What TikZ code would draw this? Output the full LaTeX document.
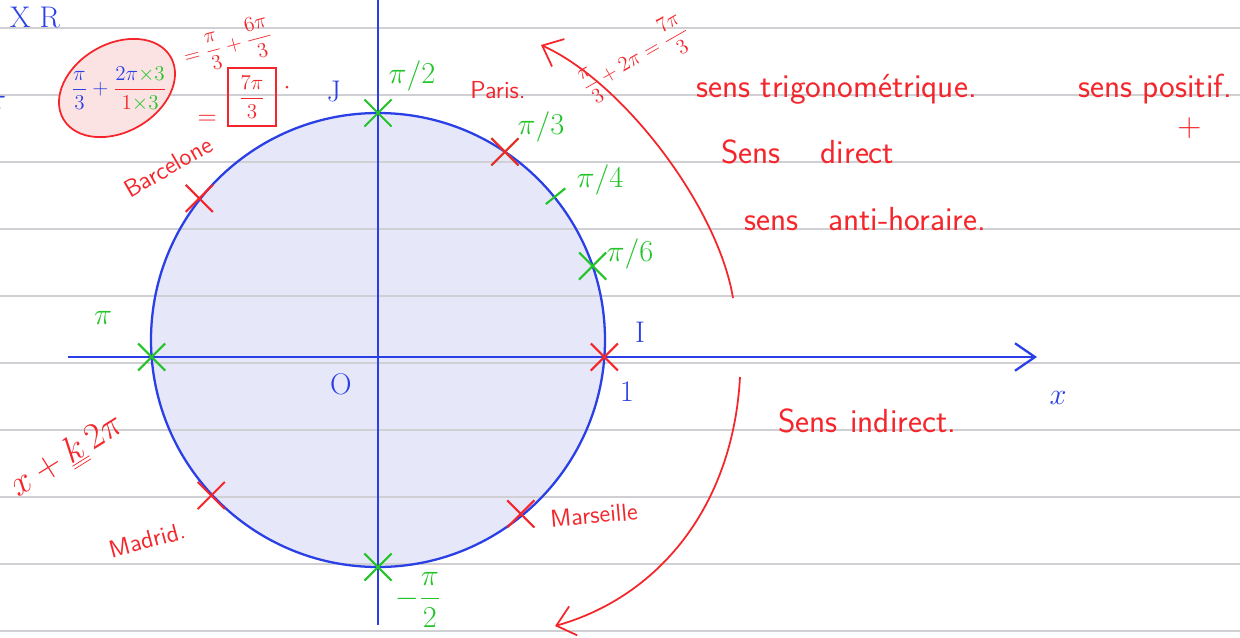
\documentclass[tikz,border=0pt]{standalone}
\usepackage{xcolor}
\usepackage{tikz}
\usetikzlibrary{positioning, arrows.meta, shapes.misc, calc}
\definecolor{stylobleu}{HTML}{2A3FE6}
\definecolor{styloroug}{HTML}{F5262B}
\definecolor{stylovert}{HTML}{22C428}
\definecolor{disque}{HTML}{E6E8FA}
\definecolor{bulle}{HTML}{FCE3E3}
\definecolor{reglure}{HTML}{CFCFD4}

\begin{document}
\begin{tikzpicture}[
  x=0.02cm, y=0.02cm,
  reglee/.style={draw=reglure, line width=1pt},
  axe/.style={draw=stylobleu, line width=1.3pt},
  croix/.style={cross out, draw, line width=1.2pt, minimum size=0.5cm, inner sep=0pt},
  fleche/.style={draw=styloroug, line width=1pt, -{Straight Barb[length=3.5mm, width=6mm]}},
  mesure/.style={text=stylovert, font=\fontsize{17}{19}\selectfont},
  ville/.style={text=styloroug, font=\sffamily\fontsize{14}{16}\selectfont},
  note/.style={text=styloroug, font=\sffamily\fontsize{19}{21}\selectfont, anchor=base west},
  repere/.style={text=stylobleu, font=\fontsize{17}{19}\selectfont}
]
\useasboundingbox (-378,-280) rectangle (862,357);
\fill[white] (-378,-280) rectangle (862,357);
% disque trigonometrique sous les lignes du cahier
\coordinate (c) at (0,17);
\fill[disque] (c) circle[radius=227];
\foreach \k in {0,...,9}
  \draw[reglee] (-378,{329-67*\k}) -- (862,{329-67*\k});
\draw[stylobleu, line width=1.3pt] (c) circle[radius=227];

% axes
\coordinate (xg) at (-310,0);
\coordinate (xd) at (659,0);
\coordinate (yh) at (0,357);
\coordinate (yb) at (0,-268);
\draw[axe, -{Straight Barb[length=4mm, width=5.5mm]}] (xg) -- (xd);
\draw[axe] (yb) -- (yh);

% points du cercle
\node[croix, draw=stylovert] (pi2) at ($(c)+(90:227)$) {};
\node[croix, draw=stylovert] (pi3v) at ($(c)+(56:227)$) {};
\node[croix, draw=styloroug] (pi3) at ($(c)+(56:227)$) {};
\draw[stylovert, line width=1.2pt] ($(c)+(39:216)$) coordinate (pi4) -- ($(c)+(39:241)$);
\node[croix, draw=stylovert] (pi6) at ($(c)+(19:227)$) {};
\node[croix, draw=styloroug] (I) at ($(c)+(-4.3:227)$) {};
\node[croix, draw=styloroug] (marseille) at ($(c)+(-50.6:225)$) {};
\node[croix, draw=stylovert] (mpi2) at ($(c)+(-90:227)$) {};
\node[croix, draw=styloroug] (madrid) at ($(c)+(-137:228)$) {};
\node[croix, draw=stylovert] (pi) at ($(c)+(184.3:227)$) {};
\node[croix, draw=styloroug] (barcelone) at ($(c)+(141.6:228)$) {};

% etiquettes
\node[mesure] (lpi2) at (34,281) {$\pi/2$};
\node[repere] (lJ) at (-44,265) {J};
\node[ville] (lparis) at (120,267) {Paris.};
\node[mesure] (lpi3) at (163,230) {$\pi/3$};
\node[mesure] (lpi4) at (222,177) {$\pi/4$};
\node[mesure] (lpi6) at (252,103) {$\pi/6$};
\node[repere] (lI) at (262,25) {I};
\node[repere] (lun) at (249,-35) {1};
\node[repere] (lO) at (-37,-27) {O};
\node[repere] (lx) at (680,-41) {$x$};
\node[mesure] (lpi) at (-275,39) {$\pi$};
\node[ville, rotate=30] (lbarcelone) at (-210,190) {Barcelone};
\node[ville, rotate=15] (lmadrid) at (-231,-183) {Madrid.};
\node[ville, rotate=5] (lmarseille) at (216,-158) {Marseille};
\node[mesure] (lmpi2) at (40,-243) {$\displaystyle -\frac{\pi}{2}$};
\node[text=styloroug, rotate=32, font=\fontsize{20}{22}\selectfont] (periode) at (-311,-99) {$x+\underline{\underline{k}}\,2\pi$};
\node[repere] (xr) at (-343,339) {X R};
\node[repere] (bord) at (-381,254) {$\pi$};

% calcul entoure
\draw[styloroug, line width=1pt, fill=bulle, rotate around={30:(-261,269)}] (-261,269) ellipse[x radius=62, y radius=44];
\node[font=\fontsize{12}{14}\selectfont] (calcul) at (-259,268)
  {$\displaystyle\color{stylobleu}\frac{\pi}{3}+{\color{styloroug}\frac{{\color{stylobleu}2\pi}{\color{stylovert}\times3}}{1{\color{stylovert}\times3}}}$};
\node[text=styloroug, rotate=15, font=\fontsize{12}{14}\selectfont] (somme) at (-150,312) {$\displaystyle=\frac{\pi}{3}+\frac{6\pi}{3}$};
\node[draw=styloroug, line width=1pt, text=styloroug, minimum width=0.95cm, minimum height=1.15cm, font=\fontsize{12}{14}\selectfont] (resultat) at (-126,260) {$\displaystyle\frac{7\pi}{3}$};
\node[text=styloroug, font=\fontsize{14}{16}\selectfont] (egal) at ([xshift=-4mm, yshift=-4.5mm]resultat.west) {$=$};
\fill[styloroug] (-91,270) circle[radius=1.5];

% sens de parcours
\coordinate (h0) at (355,59);
\coordinate (h1) at (163,312);
\draw[fleche] (h0) .. controls (340,150) and (245,275) .. (h1);
\node[text=styloroug, rotate=30, font=\fontsize{12}{14}\selectfont] (tour) at (257,299) {$\displaystyle\frac{\pi}{3}+2\pi=\frac{7\pi}{3}$};
\coordinate (b0) at (362,-20);
\coordinate (b1) at (177,-269);
\draw[fleche] (b0) .. controls (355,-150) and (280,-240) .. (b1);

\node[note] (trigo) at (312,260) {sens trigonométrique.};
\node[note] (positif) at (694,260) {sens positif.};
\node[text=styloroug, font=\sffamily\fontsize{19}{21}\selectfont] (plus) at (812,229) {+};
\node[note] (direct) at (337,194) {Sens\hspace{0.8cm}direct};
\node[note] (horaire) at (360,127) {sens\hspace{0.6cm}anti-horaire.};
\node[note] (indirect) at (394,-75) {Sens\hspace{0.25cm}indirect.};
\end{tikzpicture}
\end{document}
